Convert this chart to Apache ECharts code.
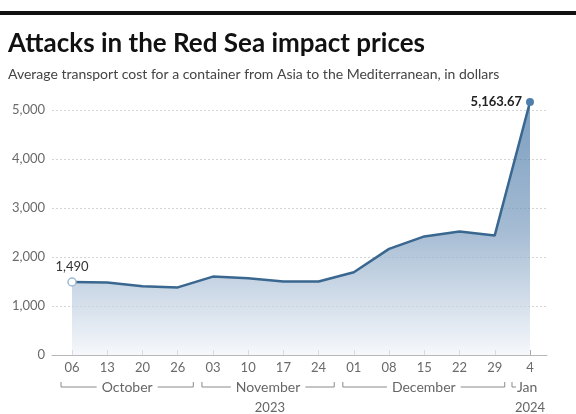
<!DOCTYPE html>
<html>
<head>
<meta charset="utf-8">
<script src="https://cdn.jsdelivr.net/npm/echarts@6/dist/echarts.min.js"></script>
<style>
  html, body { margin: 0; padding: 0; background: #fff; }
  #main { width: 576px; height: 414px; }
</style>
</head>
<body>
<div id="main"></div>
<script>
// weekly dates (Oct 2023 - Jan 2024)
var dates = ['06', '13', '20', '26', '03', '10', '17', '24', '01', '08', '15', '22', '29', '4']
var prices = [1490, 1480, 1405, 1380, 1600, 1565, 1500, 1500, 1690, 2165, 2420, 2520, 2440, 5163.67]
var yTicks = [0, 1000, 2000, 3000, 4000, 5000]
// month groups: name, first index, last index
var monthNames = ['October', 'November', 'December']
var monthFirst = [0, 4, 8]
var monthLast = [3, 7, 12]
var years = ['2023', '2024']

var FONT = 'Lato, "Open Sans", sans-serif'
var chart = echarts.init(document.getElementById('main'))

function fmt(v) {
  return v.toLocaleString('en-US')
}

var idx = dates.map(function(d, i) { return i })
var lastI = prices.length - 1

chart.setOption({
  animation: false,
  grid: { left: 52, right: 29, top: 110, bottom: 59 },
  xAxis: {
    type: 'value',
    min: -0.568,
    max: 13.483,
    axisLine: { show: true, lineStyle: { color: '#b8b8b8', width: 1 } },
    axisTick: {
      show: true,
      customValues: idx,
      inside: true,
      length: 5,
      lineStyle: { color: '#a8a8a8' }
    },
    axisLabel: {
      customValues: idx,
      formatter: function(v) { return dates[Math.round(v)] },
      color: '#6a6a6a',
      fontFamily: FONT,
      fontSize: 13,
      margin: 6
    },
    splitLine: { show: false }
  },
  yAxis: {
    type: 'value',
    min: yTicks[0],
    max: yTicks[yTicks.length - 1],
    interval: 1000,
    axisLine: { show: false },
    axisTick: { show: false },
    axisLabel: {
      formatter: function(v) { return fmt(v) },
      color: '#6a6a6a',
      fontFamily: FONT,
      fontSize: 13,
      margin: 7
    },
    splitLine: {
      show: true,
      lineStyle: { color: '#d4d4d4', type: [2, 2], width: 1 }
    }
  },
  series: [
    {
      type: 'line',
      clip: false,
      data: prices.map(function(v, i) {
        var item = { value: [i, v], symbol: 'none' }
        if (i === 0) {
          item.symbol = 'circle'
          item.symbolSize = 8
          item.itemStyle = { color: '#fff', borderColor: '#9db9d3', borderWidth: 1.5 }
          item.label = {
            show: true,
            position: 'top',
            distance: 4,
            formatter: fmt(v),
            color: '#333',
            fontFamily: FONT,
            fontSize: 13
          }
        }
        if (i === lastI) {
          item.symbol = 'circle'
          item.symbolSize = 8
          item.itemStyle = { color: '#4f7fab', borderWidth: 0 }
          item.label = {
            show: true,
            position: 'left',
            distance: 4,
            formatter: fmt(v),
            color: '#222',
            fontWeight: 'bold',
            fontFamily: FONT,
            fontSize: 13
          }
        }
        return item
      }),
      lineStyle: { color: '#3a678f', width: 2.5 },
      areaStyle: {
        color: {
          type: 'linear',
          x: 0, y: 0, x2: 0, y2: 1,
          colorStops: [
            { offset: 0, color: '#4274a4' },
            { offset: 0.5, color: '#7c9dbf' },
            { offset: 1, color: '#f1f4f9' }
          ]
        }
      },
      z: 3
    }
  ]
})

// title, subtitle, month brackets
var px = function(i) { return chart.convertToPixel({ xAxisIndex: 0 }, i) }
var lineY = 387
var gray = '#8a8a8a'
var elements = [
  { type: 'rect', shape: { x: 0, y: 11, width: 576, height: 4 }, style: { fill: '#111' } },
  {
    type: 'text', x: 8, y: 31,
    style: { text: 'Attacks in the Red Sea impact prices', fill: '#111', font: 'bold 26px ' + FONT }
  },
  {
    type: 'text', x: 8, y: 67,
    style: { text: 'Average transport cost for a container from Asia to the Mediterranean, in dollars', fill: '#444', font: '14px ' + FONT }
  }
]
var nextStart = [px(monthFirst[1]), px(monthFirst[2]), px(lastI)]
monthNames.forEach(function(name, m) {
  var x1 = px(monthFirst[m]) - 11
  var x2 = (px(monthLast[m]) + nextStart[m]) / 2 - 2
  if (m === 2) x2 = px(monthLast[m]) + 10
  elements.push({
    type: 'polyline',
    shape: { points: [[x1, lineY - 5], [x1, lineY], [x2, lineY], [x2, lineY - 5]] },
    style: { stroke: gray, lineWidth: 1, fill: null }
  })
  elements.push({
    type: 'text', x: (x1 + x2) / 2, y: lineY,
    style: {
      text: name, fill: '#666', font: '14px ' + FONT,
      align: 'center', verticalAlign: 'middle',
      backgroundColor: '#fff', padding: [0, 5]
    }
  })
})
// Jan bracket
var jx = px(lastI) - 18
elements.push({
  type: 'polyline',
  shape: { points: [[jx, lineY - 5], [jx, lineY], [jx + 4, lineY]] },
  style: { stroke: gray, lineWidth: 1, fill: null }
})
elements.push({
  type: 'text', x: jx + 5, y: lineY,
  style: { text: 'Jan', fill: '#666', font: '14px ' + FONT, align: 'left', verticalAlign: 'middle' }
})
// years
var y1x = (px(monthFirst[0]) - 11 + px(monthLast[2]) + 10) / 2 - 13
elements.push({
  type: 'text', x: y1x, y: 408,
  style: { text: years[0], fill: '#666', font: '13px ' + FONT, align: 'center', verticalAlign: 'middle' }
})
elements.push({
  type: 'text', x: px(lastI), y: 408,
  style: { text: years[1], fill: '#666', font: '13px ' + FONT, align: 'center', verticalAlign: 'middle' }
})

chart.setOption({ graphic: { elements: elements } })

window.addEventListener('resize', function() {
  chart.resize()
})
</script>
</body>
</html>
